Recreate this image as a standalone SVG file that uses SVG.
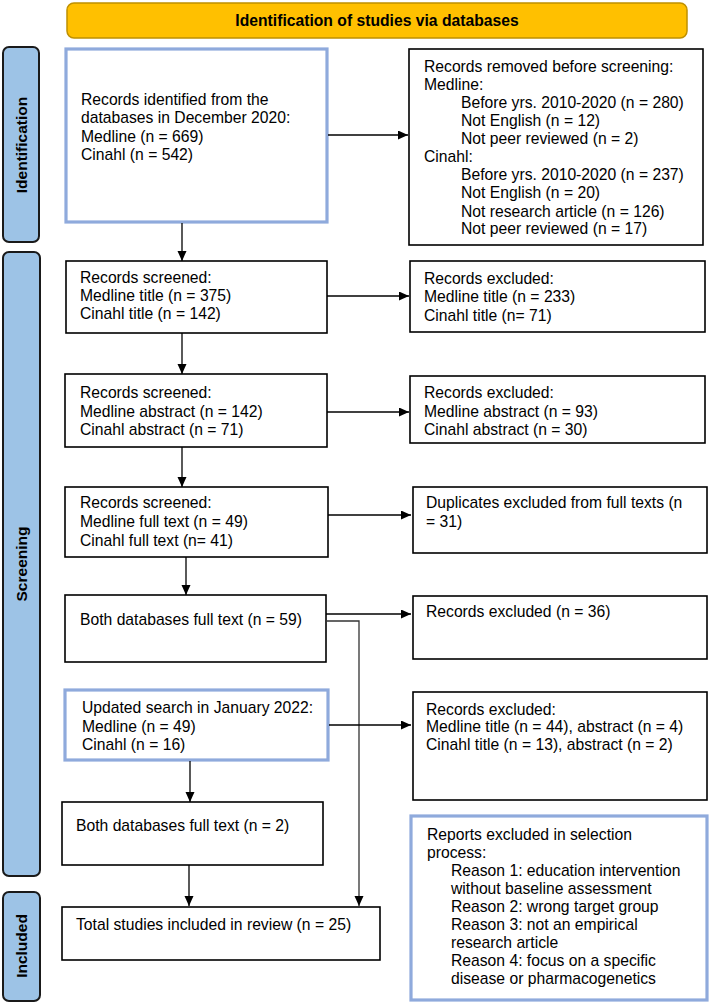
<svg xmlns="http://www.w3.org/2000/svg" width="709" height="1004" viewBox="0 0 709 1004">
<defs>
<marker id="ah" markerUnits="userSpaceOnUse" markerWidth="11" markerHeight="10" refX="10" refY="4.5" orient="auto">
<path d="M0,0 L10,4.5 L0,9 z" fill="#000"/>
</marker>
<style>
text{font-family:"Liberation Sans",Arial,sans-serif;font-size:15.7px;fill:#000}
.b{fill:#fff;stroke:#000;stroke-width:1.6}
.bl{fill:#fff;stroke:#8FAADC;stroke-width:3.2}
.side{fill:#9DC3E6;stroke:#1a1a1a;stroke-width:2}
.lab{font-weight:bold;font-size:15.5px;text-anchor:middle}
.c{fill:none;stroke:#000;stroke-width:1.3;marker-end:url(#ah)}
</style>
</defs>
<rect width="709" height="1004" fill="#fff"/>

<g id="header">
<rect x="67" y="3" width="620" height="35" rx="7" fill="#FFC000" stroke="#BF9000" stroke-width="1.5"/>
<text x="377" y="26" class="lab" style="font-size:15.7px">Identification of studies via databases</text>
</g>

<g id="bar-identification">
<rect class="side" x="3" y="47" width="36" height="195" rx="6"/>
<text class="lab" transform="translate(26.5,145) rotate(-90)">Identification</text>
</g>
<g id="bar-screening">
<rect class="side" x="3" y="252" width="37" height="624" rx="6"/>
<text class="lab" transform="translate(27,564) rotate(-90)">Screening</text>
</g>
<g id="bar-included">
<rect class="side" x="3" y="892" width="37" height="109" rx="6"/>
<text class="lab" transform="translate(27,946) rotate(-90)">Included</text>
</g>

<g id="n-records-identified">
<rect class="bl" x="66" y="49" width="261" height="173"/>
<text x="81" y="105">Records identified from the</text>
<text x="81" y="123">databases in December 2020:</text>
<text x="81" y="142">Medline (n = 669)</text>
<text x="81" y="160">Cinahl (n = 542)</text>
</g>

<g id="n-removed-before">
<rect class="b" x="409" y="49" width="294" height="196"/>
<text x="424" y="72">Records removed before screening:</text>
<text x="424" y="90">Medline:</text>
<text x="461" y="108">Before yrs. 2010-2020 (n = 280)</text>
<text x="461" y="126">Not English (n = 12)</text>
<text x="461" y="144">Not peer reviewed (n = 2)</text>
<text x="424" y="162">Cinahl:</text>
<text x="461" y="180">Before yrs. 2010-2020 (n = 237)</text>
<text x="461" y="198">Not English (n = 20)</text>
<text x="461" y="217">Not research article (n = 126)</text>
<text x="461" y="234">Not peer reviewed (n = 17)</text>
</g>

<g id="n-screened-title">
<rect class="b" x="66" y="261" width="261" height="72"/>
<text x="80" y="283">Records screened:</text>
<text x="80" y="301">Medline title (n = 375)</text>
<text x="80" y="319">Cinahl title (n = 142)</text>
</g>

<g id="n-excluded-title">
<rect class="b" x="410" y="261" width="295" height="71"/>
<text x="424" y="284">Records excluded:</text>
<text x="424" y="302">Medline title (n = 233)</text>
<text x="424" y="321">Cinahl title (n= 71)</text>
</g>

<g id="n-screened-abstract">
<rect class="b" x="65" y="374" width="262" height="73"/>
<text x="80" y="398">Records screened:</text>
<text x="80" y="417">Medline abstract (n = 142)</text>
<text x="80" y="435">Cinahl abstract (n = 71)</text>
</g>

<g id="n-excluded-abstract">
<rect class="b" x="410" y="376" width="295" height="67"/>
<text x="424" y="398">Records excluded:</text>
<text x="424" y="417">Medline abstract (n = 93)</text>
<text x="424" y="435">Cinahl abstract (n = 30)</text>
</g>

<g id="n-screened-fulltext">
<rect class="b" x="65" y="487" width="263" height="70"/>
<text x="80" y="508">Records screened:</text>
<text x="80" y="527">Medline full text (n = 49)</text>
<text x="80" y="546">Cinahl full text (n= 41)</text>
</g>

<g id="n-duplicates">
<rect class="b" x="413" y="487" width="294" height="66"/>
<text x="426" y="508">Duplicates excluded from full texts (n</text>
<text x="426" y="527">= 31)</text>
</g>

<g id="n-both-59">
<rect class="b" x="65" y="595" width="261" height="67"/>
<text x="80" y="625">Both databases full text (n = 59)</text>
</g>

<g id="n-excluded-36">
<rect class="b" x="413" y="596" width="294" height="63"/>
<text x="426" y="617">Records excluded (n = 36)</text>
</g>

<g id="n-updated-search">
<rect class="bl" x="65" y="690" width="263" height="70"/>
<text x="82" y="713">Updated search in January 2022:</text>
<text x="82" y="732">Medline (n = 49)</text>
<text x="82" y="750">Cinahl (n = 16)</text>
</g>

<g id="n-excluded-update">
<rect class="b" x="413" y="692" width="294" height="108"/>
<text x="426" y="715">Records excluded:</text>
<text x="426" y="732">Medline title (n = 44), abstract (n = 4)</text>
<text x="426" y="750">Cinahl title (n = 13), abstract (n = 2)</text>
</g>

<g id="n-both-2">
<rect class="b" x="62" y="802" width="261" height="63"/>
<text x="76" y="831">Both databases full text (n = 2)</text>
</g>

<g id="n-total">
<rect class="b" x="62" y="907" width="318" height="53"/>
<text x="76" y="930">Total studies included in review (n = 25)</text>
</g>

<g id="n-reports-excluded">
<rect class="bl" x="411" y="816" width="296" height="184"/>
<text x="427" y="840">Reports excluded in selection</text>
<text x="427" y="858">process:</text>
<text x="451" y="876">Reason 1: education intervention</text>
<text x="451" y="894">without baseline assessment</text>
<text x="451" y="912">Reason 2: wrong target group</text>
<text x="451" y="930">Reason 3: not an empirical</text>
<text x="451" y="948">research article</text>
<text x="451" y="966">Reason 4: focus on a specific</text>
<text x="451" y="984">disease or pharmacogenetics</text>
</g>

<g id="connectors">
<line class="c" x1="182" y1="223" x2="182" y2="261"/>
<line class="c" x1="328" y1="135" x2="408" y2="135"/>
<line class="c" x1="327" y1="296" x2="409" y2="296"/>
<line class="c" x1="182" y1="333" x2="182" y2="374"/>
<line class="c" x1="327" y1="412" x2="409" y2="412"/>
<line class="c" x1="182" y1="447" x2="182" y2="487"/>
<line class="c" x1="328" y1="515" x2="411" y2="515"/>
<line class="c" x1="186" y1="557" x2="186" y2="595"/>
<line class="c" x1="326" y1="614" x2="411" y2="614"/>
<polyline class="c" style="stroke:#333" points="326,621 359,621 359,906"/>
<line class="c" x1="329" y1="725" x2="411" y2="725"/>
<line class="c" x1="190" y1="761" x2="190" y2="802"/>
<line class="c" x1="189" y1="865" x2="189" y2="906"/>
</g>
</svg>
